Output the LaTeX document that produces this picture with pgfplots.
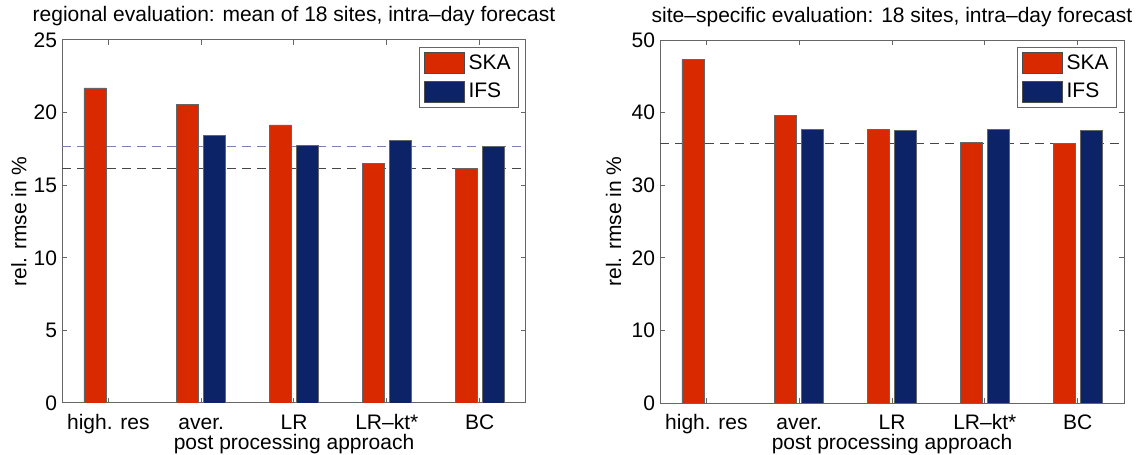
\documentclass[border=0pt]{standalone}
\usepackage{fontspec}
\setmainfont{Liberation Sans}
\usepackage{pgfplots}
\pgfplotsset{compat=1.18}
\definecolor{ska}{RGB}{217,41,0}
\definecolor{ifs}{RGB}{12,35,104}
\definecolor{refblue}{RGB}{120,128,180}
\definecolor{refgray}{RGB}{70,70,70}
\pgfplotsset{
  myaxis/.style={
    scale only axis, width=232pt, height=181.5pt,
    xmin=-0.5, xmax=4.5, ymin=0,
    xtick={0,1,2,3,4},
    xticklabels={high. res, aver., LR, LR--kt*, BC},
    tick align=inside, major tick length=2.5pt,
    axis line style={black!60, line width=0.5pt},
    every tick/.style={black!60, line width=0.5pt},
    /pgf/number format/assume math mode=true,
    xticklabel style={anchor=base, yshift=-13.2pt, inner sep=0pt},
    yticklabel style={xshift=1pt},
    xlabel={post processing approach},
    xlabel style={at={(axis description cs:0.5,-0.127)}, anchor=base, inner sep=0pt},
    ylabel={rel. rmse in \%},
    title style={at={(axis description cs:0.5,1)}, anchor=base, yshift=3pt},
    legend style={at={(1,1)}, anchor=north east, xshift=-3.5pt, yshift=-3.5pt,
      draw=black!60, fill=white, inner xsep=2pt, inner ysep=1.5pt,
      row sep=1.5pt, font=\fontsize{10.5pt}{12pt}\selectfont},
    legend cell align=left,
    legend image code/.code={\draw[#1, draw=black!70, line width=0.4pt] (0pt,-5.25pt) rectangle (20pt,5.25pt);},
  },
  skabar/.style={ybar, bar width=0.237, bar shift=-0.145, fill=ska, draw=black!60, line width=0.4pt},
  ifsbar/.style={ybar, bar width=0.237, bar shift=0.145, fill=ifs, draw=black!60, line width=0.4pt},
  refline/.style={sharp plot, dash pattern=on 4.5pt off 3pt, line width=0.5pt, forget plot},
}
\begin{document}
\begin{tikzpicture}[font=\fontsize{10.5pt}{12.6pt}\selectfont]
\useasboundingbox (0,0) rectangle (571.5pt,227pt);
\begin{axis}[myaxis, at={(31pt,25.5pt)}, anchor=south west,
  ymax=25, ytick={0,5,10,15,20,25},
  ylabel style={at={(axis description cs:-0.093,0.5)}, anchor=center},
  title={regional evaluation: mean of 18 sites, intra--day forecast}]
\addplot[refline, draw=refblue] coordinates {(-0.5,17.65) (4.5,17.65)};
\addplot[refline, draw=refgray] coordinates {(-0.5,16.18) (4.5,16.18)};
\addplot[skabar] coordinates {(0,21.7) (1,20.55) (2,19.15) (3,16.5) (4,16.18)};
\addplot[ifsbar] coordinates {(1,18.44) (2,17.75) (3,18.07) (4,17.65)};
\legend{SKA, IFS}
\end{axis}
\begin{axis}[myaxis, at={(330pt,25.5pt)}, anchor=south west,
  ymax=50, ytick={0,10,20,30,40,50},
  ylabel style={at={(axis description cs:-0.1,0.5)}, anchor=center},
  title={site--specific evaluation: 18 sites, intra--day forecast}]
\addplot[refline, draw=refgray] coordinates {(-0.5,35.8) (4.5,35.8)};
\addplot[skabar] coordinates {(0,47.3) (1,39.6) (2,37.7) (3,35.9) (4,35.8)};
\addplot[ifsbar] coordinates {(1,37.7) (2,37.5) (3,37.7) (4,37.5)};
\legend{SKA, IFS}
\end{axis}
\end{tikzpicture}
\end{document}
